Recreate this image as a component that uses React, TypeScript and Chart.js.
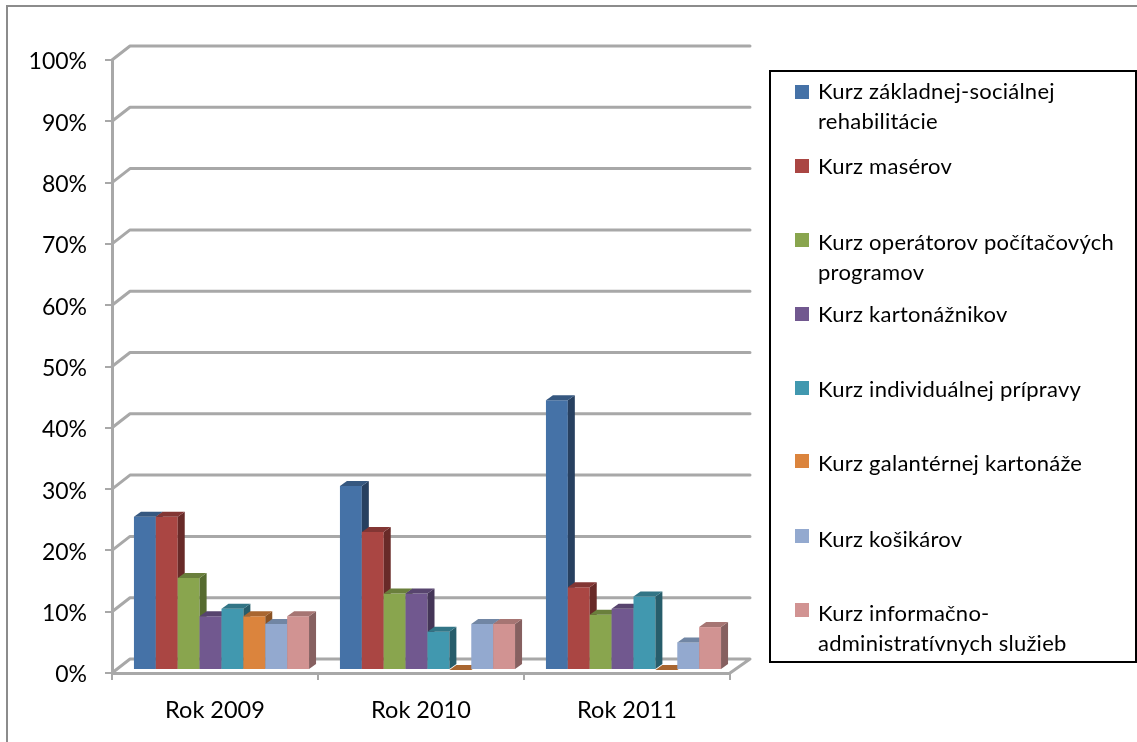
import React, { useEffect, useRef } from "react";
import { Chart, registerables } from "chart.js";

Chart.register(...registerables);

const categories = ["Rok 2009", "Rok 2010", "Rok 2011"];
const seriesNames = [
  "Kurz základnej-sociálnej rehabilitácie",
  "Kurz masérov",
  "Kurz operátorov počítačových programov",
  "Kurz kartonážnikov",
  "Kurz individuálnej prípravy",
  "Kurz galantérnej kartonáže",
  "Kurz košikárov",
  "Kurz informačno-administratívnych služieb",
];
const legendLines = [
  ["Kurz základnej-sociálnej", "rehabilitácie"],
  ["Kurz masérov"],
  ["Kurz operátorov počítačových", "programov"],
  ["Kurz kartonážnikov"],
  ["Kurz individuálnej prípravy"],
  ["Kurz galantérnej kartonáže"],
  ["Kurz košikárov"],
  ["Kurz informačno-", "administratívnych služieb"],
];
const s1 = [25, 30, 44];
const s2 = [25, 22.5, 13.5];
const s3 = [15, 12.5, 9];
const s4 = [8.75, 12.5, 10];
const s5 = [10, 6.25, 12];
const s6 = [8.75, 0, 0];
const s7 = [7.5, 7.5, 4.5];
const s8 = [8.75, 7.5, 7];
const seriesValues = [s1, s2, s3, s4, s5, s6, s7, s8];
const colors = ["#4572A7", "#AA4643", "#89A54E", "#71588F", "#4198AF", "#DB843D", "#93A9CF", "#D19392"];
const sideColors = ["#274060", "#682A28", "#566B2F", "#443557", "#275D6B", "#8A5224", "#5F6E87", "#866060"];
const topColors = ["#365880", "#833634", "#6A7F3C", "#57446E", "#327586", "#A96630", "#7186A4", "#A67573"];

const legendSwatchY = [92, 166, 240, 314, 388, 461, 536, 610];
const legendTextY = [92, 167, 243, 315, 390, 464, 540, 614];
const GRID = "#A8A8A8";
const FONT = "Lato";
const DX_WALL = 18;
const DY_WALL = -14;
const BAR_SHIFT_X = 6.5;
const BAR_SHIFT_Y = -3;
const BAR_DX = 7;
const BAR_DY = -5;

function drawFaces(ctx: any, bar: any, i: number) {
  const p = bar.getProps(["x", "y", "base", "width"], true);
  const l = p.x - p.width / 2;
  const r = p.x + p.width / 2;
  ctx.fillStyle = sideColors[i];
  ctx.beginPath();
  ctx.moveTo(r, p.y);
  ctx.lineTo(r + BAR_DX, p.y + BAR_DY);
  ctx.lineTo(r + BAR_DX, p.base + BAR_DY);
  ctx.lineTo(r, p.base);
  ctx.closePath();
  ctx.fill();
  ctx.fillStyle = topColors[i];
  ctx.beginPath();
  ctx.moveTo(l, p.y);
  ctx.lineTo(l + BAR_DX, p.y + BAR_DY);
  ctx.lineTo(r + BAR_DX, p.y + BAR_DY);
  ctx.lineTo(r, p.y);
  ctx.closePath();
  ctx.fill();
}

const scene = {
  id: "scene",
  beforeDraw(chart: any) {
    const { ctx, width, height } = chart;
    ctx.save();
    ctx.fillStyle = "#fff";
    ctx.fillRect(0, 0, width, height);
    ctx.strokeStyle = "#8C8C8C";
    ctx.lineWidth = 2;
    ctx.strokeRect(7, 6, width + 10, height + 10);
    ctx.restore();
  },
  beforeDatasetsDraw(chart: any) {
    const { ctx, chartArea: a, scales } = chart;
    ctx.save();
    ctx.strokeStyle = GRID;
    ctx.lineWidth = 3;
    ctx.lineCap = "round";
    ctx.lineJoin = "round";
    scales.y.ticks.forEach((t: any) => {
      const y = scales.y.getPixelForValue(t.value);
      ctx.beginPath();
      ctx.moveTo(a.left, y);
      ctx.lineTo(a.left + DX_WALL, y + DY_WALL);
      ctx.lineTo(a.right + DX_WALL + 2, y + DY_WALL);
      if (t.value === 0) {
        ctx.lineTo(a.right, y);
      }
      ctx.stroke();
    });
    ctx.restore();
    // left-to-right painting so each bar's front hides its neighbour's side face
    ctx.save();
    ctx.translate(BAR_SHIFT_X, BAR_SHIFT_Y);
    const barsByCategory = categories.map((_, c) =>
      seriesValues.map((_, i) => chart.getDatasetMeta(i).data[c])
    );
    barsByCategory.forEach((bars) =>
      bars.forEach((bar, i) => {
        bar.draw(ctx);
        drawFaces(ctx, bar, i);
      })
    );
    ctx.restore();
    return false;
  },
  afterDraw(chart: any) {
    const { ctx } = chart;
    ctx.save();
    ctx.fillStyle = "#fff";
    ctx.fillRect(770, 71, 366, 591);
    ctx.strokeStyle = "#000";
    ctx.lineWidth = 2;
    ctx.strokeRect(770, 71, 366, 591);
    ctx.font = `22px ${FONT}`;
    (ctx as any).letterSpacing = "0.25px";
    ctx.textBaseline = "middle";
    ctx.textAlign = "left";
    legendLines.forEach((lines, i) => {
      ctx.fillStyle = colors[i];
      ctx.fillRect(795, legendSwatchY[i] - 7, 14, 14);
      ctx.fillStyle = "#000";
      lines.forEach((line, j) => ctx.fillText(line, 818, legendTextY[i] + j * 30));
    });
    ctx.restore();
  },
};

export default function App() {
  const ref = useRef<HTMLCanvasElement>(null);
  useEffect(() => {
    document.body.style.margin = "0";
    const chart = new Chart(ref.current!, {
      type: "bar",
      data: {
        labels: categories,
        datasets: seriesValues.map((data, i) => ({
          label: seriesNames[i],
          data,
          backgroundColor: colors[i],
          borderWidth: 0,
          categoryPercentage: 0.85,
          barPercentage: 1,
        })),
      },
      options: {
        responsive: false,
        animation: false,
        devicePixelRatio: 1,
        layout: { padding: { left: 0, top: 60, right: 407, bottom: 0 } },
        plugins: { legend: { display: false }, title: { display: false }, tooltip: { enabled: false } },
        scales: {
          x: {
            grid: { drawOnChartArea: false, color: GRID, lineWidth: 2, tickLength: 7 },
            border: { color: GRID, width: 3 },
            ticks: { color: "#000", font: { family: FONT, size: 23.5 }, padding: 16, maxRotation: 0 },
            afterFit: (s: any) => { s.height = 69; },
          },
          y: {
            min: 0,
            max: 100,
            grid: { drawOnChartArea: false, color: GRID, lineWidth: 2, tickLength: 7 },
            border: { color: GRID, width: 3 },
            ticks: {
              stepSize: 10,
              color: "#000",
              font: { family: FONT, size: 23 },
              padding: 18,
              labelOffset: 2,
              callback: (v: any) => `${v}%`,
            },
            afterFit: (s: any) => { s.width = 112; },
          },
        },
      },
      plugins: [scene],
    } as any);
    return () => chart.destroy();
  }, []);
  return <canvas ref={ref} width={1137} height={742} style={{ display: "block", filter: "blur(0.6px)" }} />;
}
